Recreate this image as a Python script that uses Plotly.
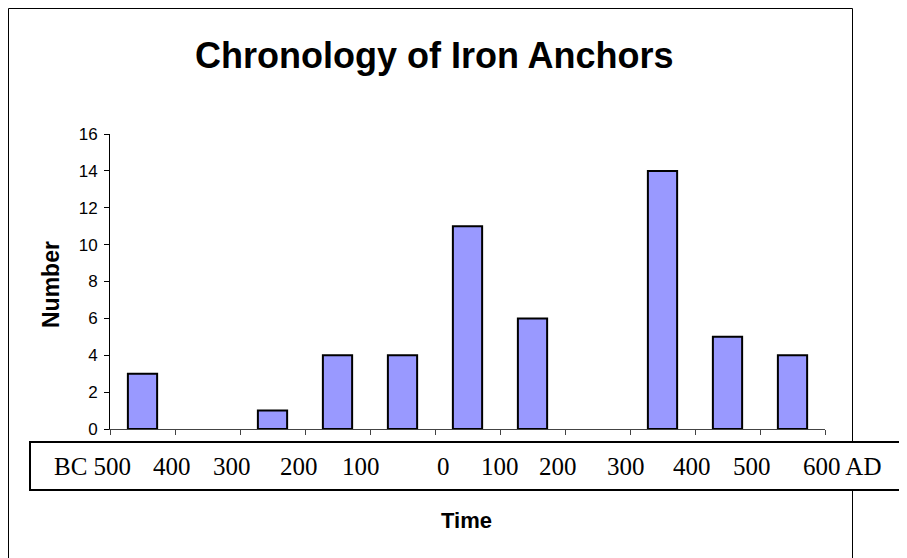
import plotly.graph_objects as go

# ---- data ----
categories = ["c1", "c2", "c3", "c4", "c5", "c6", "c7", "c8", "c9", "c10", "c11"]
counts = [3, 0, 1, 4, 4, 11, 6, 0, 14, 5, 4]
time_labels = ["BC 500", "400", "300", "200", "100", "0", "100", "200", "300", "400", "500", "600 AD"]

# ---- layout geometry (figure pixels) ----
W, H = 907, 558
L, R, T, B = 102, 817, 126, 421
label_centers_px = [84, 164, 224, 291, 353, 435, 492, 550, 618, 684, 744, 834]


def px(x):
    return (x - L) / (R - L)


def py(y):
    return (B - y) / (B - T)


fig = go.Figure()
fig.add_trace(go.Bar(
    x=categories,
    y=counts,
    marker=dict(color="#9999FF",
                line=dict(color="black", width=[2 if v > 0 else 0 for v in counts])),
    width=0.45,
    hoverinfo="skip",
))

shapes = [
    # outer chart frame
    dict(type="line", xref="paper", yref="paper", x0=px(0.5), x1=px(0.5), y0=py(0.5), y1=py(600),
         line=dict(color="black", width=1)),
    dict(type="line", xref="paper", yref="paper", x0=px(0.5), x1=px(844.5), y0=py(0.5), y1=py(0.5),
         line=dict(color="black", width=1)),
    dict(type="line", xref="paper", yref="paper", x0=px(844.5), x1=px(844.5), y0=py(0.5), y1=py(600),
         line=dict(color="black", width=1)),
    # time label box
    dict(type="rect", xref="paper", yref="paper", x0=px(22), x1=px(920), y0=py(434), y1=py(482),
         line=dict(color="black", width=2), fillcolor="white", layer="above"),
]

annotations = [
    dict(text="<b>Chronology of Iron Anchors</b>", xref="paper", yref="paper",
         x=px(426), y=py(47), xanchor="center", yanchor="middle", showarrow=False,
         font=dict(family="Liberation Sans, Arial", size=36, color="black")),
    dict(text="<b>Number</b>", xref="paper", yref="paper", textangle=-90,
         x=px(43), y=py(277), xanchor="center", yanchor="middle", showarrow=False,
         font=dict(family="Liberation Sans, Arial", size=23, color="black")),
    dict(text="<b>Time</b>", xref="paper", yref="paper",
         x=px(458), y=py(512), xanchor="center", yanchor="middle", showarrow=False,
         font=dict(family="Liberation Sans, Arial", size=22, color="black")),
]
for lab, cx in zip(time_labels, label_centers_px):
    annotations.append(dict(text=lab, xref="paper", yref="paper", x=px(cx), y=py(458),
                            xanchor="center", yanchor="middle", showarrow=False,
                            font=dict(family="Liberation Serif, Times New Roman", size=25, color="black")))

fig.update_layout(
    width=W, height=H,
    margin=dict(l=L, r=W - R, t=T, b=H - B),
    paper_bgcolor="white", plot_bgcolor="white",
    showlegend=False,
    shapes=shapes,
    annotations=annotations,
    xaxis=dict(type="category", range=[-0.5, len(counts) - 0.5],
               showticklabels=False, tickson="boundaries", ticks="outside", ticklen=5,
               tickcolor="#444", showline=True, linecolor="#444", linewidth=1,
               showgrid=False, zeroline=False, fixedrange=True),
    yaxis=dict(range=[0, 16], dtick=2, ticks="outside", ticklen=5, tickcolor="black",
               showline=True, linecolor="black", linewidth=1, showgrid=False, zeroline=False,
               tickfont=dict(family="Liberation Sans, Arial", size=17, color="black"),
               ticklabelstandoff=3, fixedrange=True),
)

fig.write_html("out.html")
